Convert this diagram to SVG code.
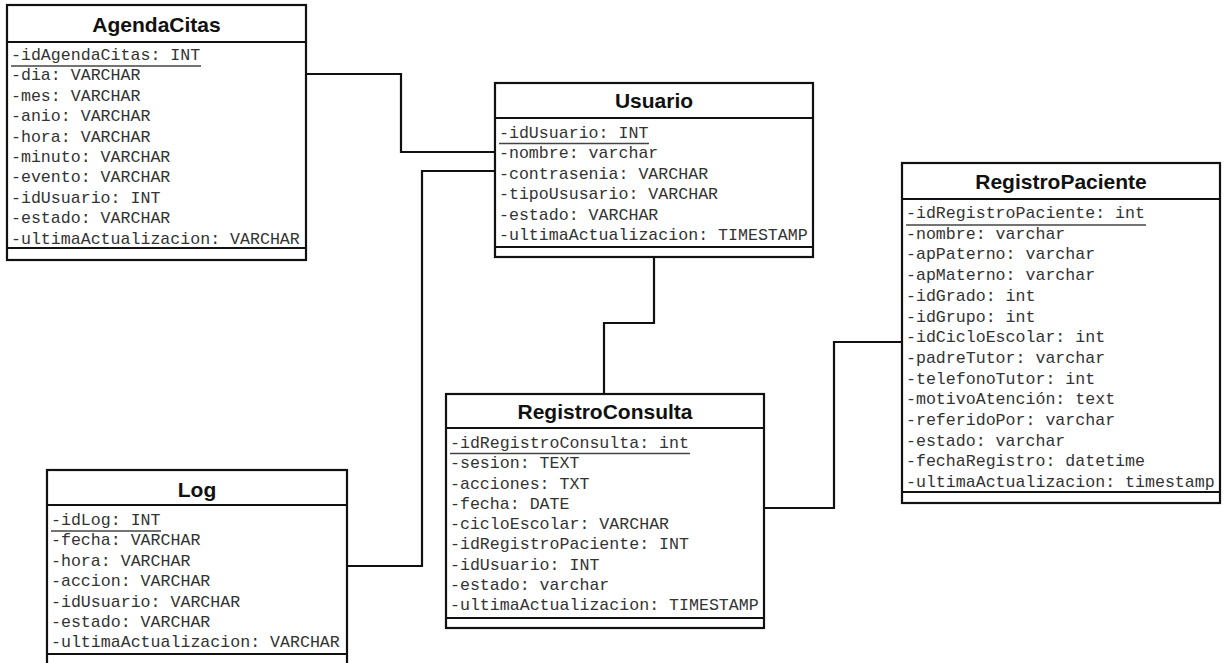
<svg xmlns="http://www.w3.org/2000/svg" width="1225" height="663" viewBox="0 0 1225 663">
<style>
.box{fill:#fff;stroke:#111;stroke-width:2.2}
.sep{stroke:#111;stroke-width:2.2}
.ul{stroke:#444;stroke-width:1.3}
.title{font-family:"Liberation Sans",Arial,sans-serif;font-weight:bold;font-size:21px;fill:#111;text-anchor:middle}
.attr{font-family:"Liberation Mono","Courier New",monospace;font-size:16.6px;fill:#333}
.conn{fill:none;stroke:#111;stroke-width:2.2}
</style>
<rect width="1225" height="663" fill="#fff"/>
<g id="connectors">
<polyline class="conn" points="306,74 401,74 401,152 495,152"/>
<polyline class="conn" points="347,566 422,566 422,171 495,171"/>
<polyline class="conn" points="654,257 654,323 604,323 604,394"/>
<polyline class="conn" points="764,508 834,508 834,342 902,342"/>
</g>
<g id="AgendaCitas">
<rect class="box" x="7" y="5" width="299" height="255"/>
<line class="sep" x1="7" y1="42" x2="306" y2="42"/>
<line class="sep" x1="7" y1="248" x2="306" y2="248"/>
<text class="title" x="156.5" y="32">AgendaCitas</text>
<text class="attr" x="11" y="60">-idAgendaCitas: INT</text>
<line class="ul" x1="11" y1="66" x2="201" y2="66"/>
<text class="attr" x="11" y="80.4">-dia: VARCHAR</text>
<text class="attr" x="11" y="100.8">-mes: VARCHAR</text>
<text class="attr" x="11" y="121.2">-anio: VARCHAR</text>
<text class="attr" x="11" y="141.6">-hora: VARCHAR</text>
<text class="attr" x="11" y="162">-minuto: VARCHAR</text>
<text class="attr" x="11" y="182.4">-evento: VARCHAR</text>
<text class="attr" x="11" y="202.8">-idUsuario: INT</text>
<text class="attr" x="11" y="223.2">-estado: VARCHAR</text>
<text class="attr" x="11" y="243.6">-ultimaActualizacion: VARCHAR</text>
</g>
<g id="Usuario">
<rect class="box" x="495" y="83" width="318" height="174"/>
<line class="sep" x1="495" y1="118" x2="813" y2="118"/>
<line class="sep" x1="495" y1="247" x2="813" y2="247"/>
<text class="title" x="654" y="108">Usuario</text>
<text class="attr" x="499" y="138">-idUsuario: INT</text>
<line class="ul" x1="499" y1="143.5" x2="649" y2="143.5"/>
<text class="attr" x="499" y="158.4">-nombre: varchar</text>
<text class="attr" x="499" y="178.8">-contrasenia: VARCHAR</text>
<text class="attr" x="499" y="199.2">-tipoUsusario: VARCHAR</text>
<text class="attr" x="499" y="219.6">-estado: VARCHAR</text>
<text class="attr" x="499" y="240">-ultimaActualizacion: TIMESTAMP</text>
</g>
<g id="RegistroPaciente">
<rect class="box" x="902" y="163" width="318" height="340"/>
<line class="sep" x1="902" y1="199" x2="1220" y2="199"/>
<line class="sep" x1="902" y1="492" x2="1220" y2="492"/>
<text class="title" x="1061" y="189">RegistroPaciente</text>
<text class="attr" x="906" y="218">-idRegistroPaciente: int</text>
<line class="ul" x1="906" y1="225" x2="1146" y2="225"/>
<text class="attr" x="906" y="238.7">-nombre: varchar</text>
<text class="attr" x="906" y="259.4">-apPaterno: varchar</text>
<text class="attr" x="906" y="280.1">-apMaterno: varchar</text>
<text class="attr" x="906" y="300.8">-idGrado: int</text>
<text class="attr" x="906" y="321.5">-idGrupo: int</text>
<text class="attr" x="906" y="342.2">-idCicloEscolar: int</text>
<text class="attr" x="906" y="362.9">-padreTutor: varchar</text>
<text class="attr" x="906" y="383.6">-telefonoTutor: int</text>
<text class="attr" x="906" y="404.3">-motivoAtención: text</text>
<text class="attr" x="906" y="425">-referidoPor: varchar</text>
<text class="attr" x="906" y="445.7">-estado: varchar</text>
<text class="attr" x="906" y="466.4">-fechaRegistro: datetime</text>
<text class="attr" x="906" y="487.1">-ultimaActualizacion: timestamp</text>
</g>
<g id="RegistroConsulta">
<rect class="box" x="446" y="394" width="318" height="234"/>
<line class="sep" x1="446" y1="428" x2="764" y2="428"/>
<line class="sep" x1="446" y1="618" x2="764" y2="618"/>
<text class="title" x="605" y="419">RegistroConsulta</text>
<text class="attr" x="450" y="448">-idRegistroConsulta: int</text>
<line class="ul" x1="450" y1="453.5" x2="690" y2="453.5"/>
<text class="attr" x="450" y="468.25">-sesion: TEXT</text>
<text class="attr" x="450" y="488.5">-acciones: TXT</text>
<text class="attr" x="450" y="508.75">-fecha: DATE</text>
<text class="attr" x="450" y="529">-cicloEscolar: VARCHAR</text>
<text class="attr" x="450" y="549.25">-idRegistroPaciente: INT</text>
<text class="attr" x="450" y="569.5">-idUsuario: INT</text>
<text class="attr" x="450" y="589.75">-estado: varchar</text>
<text class="attr" x="450" y="610">-ultimaActualizacion: TIMESTAMP</text>
</g>
<g id="Log">
<rect class="box" x="47" y="470" width="300" height="198"/>
<line class="sep" x1="47" y1="505" x2="347" y2="505"/>
<line class="sep" x1="47" y1="654" x2="347" y2="654"/>
<text class="title" x="197" y="497">Log</text>
<text class="attr" x="51" y="525">-idLog: INT</text>
<line class="ul" x1="51" y1="531" x2="161" y2="531"/>
<text class="attr" x="51" y="545.4">-fecha: VARCHAR</text>
<text class="attr" x="51" y="565.8">-hora: VARCHAR</text>
<text class="attr" x="51" y="586.2">-accion: VARCHAR</text>
<text class="attr" x="51" y="606.6">-idUsuario: VARCHAR</text>
<text class="attr" x="51" y="627">-estado: VARCHAR</text>
<text class="attr" x="51" y="647.4">-ultimaActualizacion: VARCHAR</text>
</g>
</svg>
